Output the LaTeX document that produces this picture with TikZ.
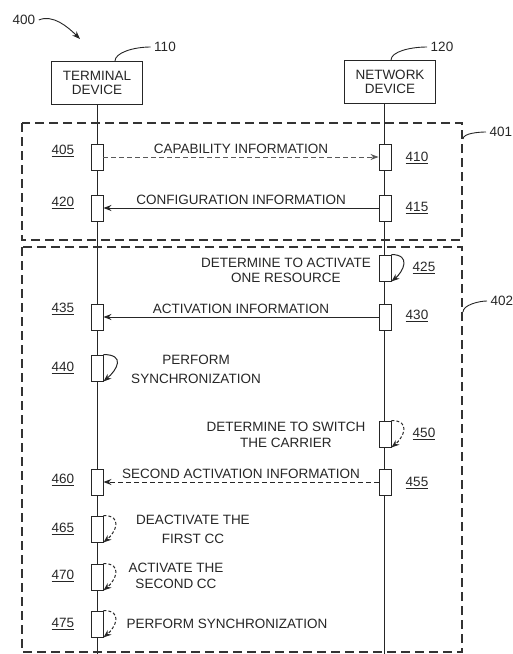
\documentclass[tikz,border=0pt]{standalone}
\usepackage{fontspec}
\setmainfont{Liberation Sans}
\usetikzlibrary{positioning,arrows.meta,calc}

\begin{document}
\begin{tikzpicture}[x=1pt,y=-1pt,>={Stealth[length=8pt,width=6pt]},
  font=\fontsize{13.5}{14}\selectfont, color=black!85,
  dev/.style={draw,line width=1pt,minimum width=91pt,minimum height=43pt,align=center,inner sep=1pt},
  act/.style={draw,fill=white,line width=0.9pt,minimum width=12pt,minimum height=26pt,inner sep=0pt},
  grp/.style={draw=black!80,line width=1.6pt,dash pattern=on 9pt off 5pt},
  num/.style={inner sep=1pt},
  msg/.style={->,line width=1pt},
  dmsg/.style={->,line width=0.9pt,dash pattern=on 5pt off 3pt},
  sloop/.style={->,line width=1pt},
  dloop/.style={->,line width=1pt,dash pattern=on 3pt off 2pt},
  txt/.style={align=center,inner sep=0pt}]
  \useasboundingbox (0,0) rectangle (512,654);
  % devices and lifelines
  \node[dev] (tdev) at (97,83) {TERMINAL\\DEVICE};
  \node[dev] (ndev) at (390,82) {NETWORK\\DEVICE};
  \coordinate (tend) at (97,654);
  \coordinate (nend) at (384,654);
  \draw[line width=0.9pt] (tdev.south) -- (tend);
  \draw[line width=0.9pt] (nend |- ndev.south) -- (nend);
  % groups 401 and 402
  \draw[grp] (22,123) rectangle (462,240);
  \draw[grp] (22,247) rectangle (462,652);
  % activation boxes
  \node[act] (a405) at (97,157) {};
  \node[act] (a410) at (385,157) {};
  \node[act] (a420) at (97,208) {};
  \node[act] (a415) at (385,208) {};
  \node[act] (a425) at (385,268) {};
  \node[act] (a435) at (97,317) {};
  \node[act] (a430) at (385,317) {};
  \node[act] (a440) at (97,368) {};
  \node[act] (a450) at (385,434) {};
  \node[act] (a460) at (97,482) {};
  \node[act] (a455) at (385,482) {};
  \node[act] (a465) at (97,529) {};
  \node[act] (a470) at (97,577) {};
  \node[act] (a475) at (97,624) {};
  % messages
  \draw[dmsg,draw=black!65] (a405) -- node[above]{CAPABILITY INFORMATION} (a410);
  \draw[msg] (a415) -- node[above]{CONFIGURATION INFORMATION} (a420);
  \draw[msg] (a430) -- node[above]{ACTIVATION INFORMATION} (a435);
  \draw[dmsg] (a455) -- node[above]{SECOND ACTIVATION INFORMATION} (a460);
  % self actions
  \draw[sloop] (a425.north east) .. controls +(20,0) and +(12,-10) .. (a425.south east);
  \draw[sloop] (a440.north east) .. controls +(22,0) and +(14,-12) .. (a440.south east);
  \draw[dloop] (a450.north east) .. controls +(20,0) and +(12,-10) .. (a450.south east);
  \draw[dloop] (a465.north east) .. controls +(20,0) and +(12,-10) .. (a465.south east);
  \draw[dloop] (a470.north east) .. controls +(20,0) and +(12,-10) .. (a470.south east);
  \draw[dloop] (a475.north east) .. controls +(20,0) and +(12,-10) .. (a475.south east);
  \node[txt] (t425) at (286,270) {DETERMINE TO ACTIVATE\\[1pt]ONE RESOURCE};
  \node[txt] (t440) at (196,369) {PERFORM\\[5pt]SYNCHRONIZATION};
  \node[txt] (t450) at (286,435) {DETERMINE TO SWITCH\\[2pt]THE CARRIER};
  \node[txt] (t465) at (193,529) {DEACTIVATE THE\\[5pt]FIRST CC};
  \node[txt] (t470) at (176,576) {ACTIVATE THE\\[2pt]SECOND CC};
  \node[txt] (t475) at (227,624) {PERFORM SYNCHRONIZATION};
  % step numbers
  \foreach \n/\x/\y in {405/63/151,420/63/203,435/63/309,440/63/368,460/63/480,
      465/63/529,470/63/576,475/63/624,410/417/158,415/417/208,425/424/268,
      430/417/316,450/424/434,455/417/483}
    \node[num] (n\n) at (\x,\y) {\underline{\n}};
  % reference numerals
  \node (n400) at (24,20) {400};
  \coordinate (p400) at (80,39);
  \draw[->,line width=0.9pt] (n400.east) .. controls +(14,-6) and +(-12,-12) .. (p400);
  \node (n110) at (165,47) {110};
  \draw[line width=0.9pt] (n110.west) .. controls +(-18,0) and +(0,-8) .. ($(tdev.north)+(18,0)$);
  \node (n120) at (442,47) {120};
  \draw[line width=0.9pt] (n120.west) .. controls +(-18,0) and +(0,-8) .. ($(ndev.north)+(1,0)$);
  \node[anchor=west] (n401) at (486,132) {401};
  \coordinate (g401) at (463,139);
  \draw[line width=0.9pt] (g401) .. controls +(0,-6) and +(-6,0) .. (n401.west);
  \node[anchor=west] (n402) at (487,301) {402};
  \coordinate (g402) at (463,312);
  \draw[line width=0.9pt] (g402) .. controls +(0,-7) and +(-8,0) .. (n402.west);
\end{tikzpicture}
\end{document}
